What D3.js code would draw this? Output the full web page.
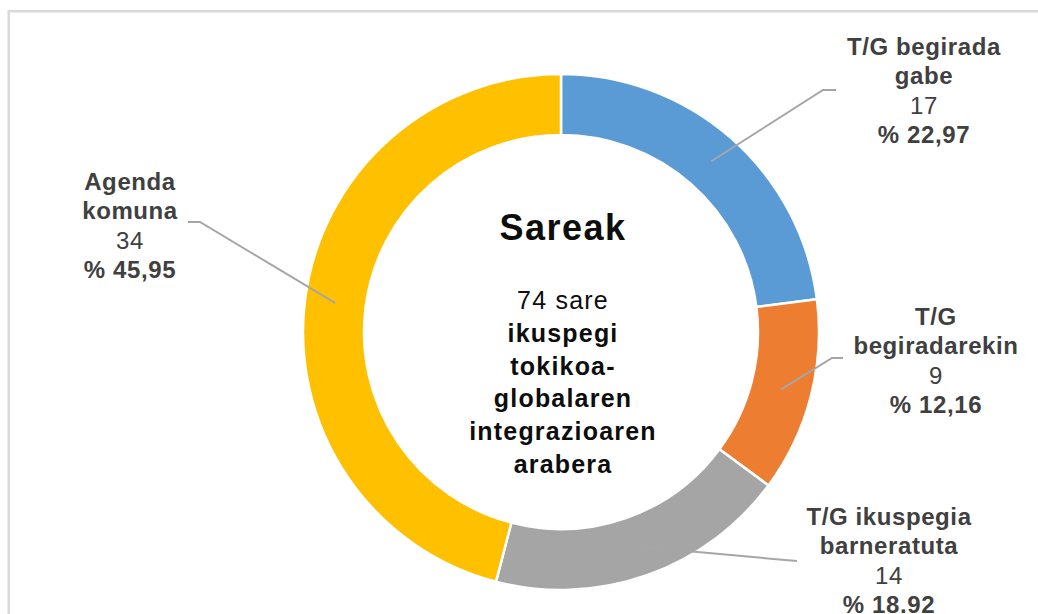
<!DOCTYPE html>
<html>
<head>
<meta charset="utf-8">
<script src="https://cdn.jsdelivr.net/npm/d3@7"></script>
<style>
  body{margin:0;background:#fff;}
  svg{display:block;font-family:"Liberation Sans",Arial,sans-serif;}
</style>
</head>
<body>
<div id="chart"></div>
<script>
// data
const categories = ['T/G begirada gabe','T/G begiradarekin','T/G ikuspegia barneratuta','Agenda komuna'];
const values = [17, 9, 14, 34];
const percentLabels = ['% 22,97','% 12,16','% 18.92','% 45,95'];
const titleText = 'Sareak';
const centerLines = ['74 sare','ikuspegi','tokikoa-','globalaren','integrazioaren','arabera'];

// label text split as in the picture
const labelLines = [['T/G begirada','gabe'],['T/G','begiradarekin'],['T/G ikuspegia','barneratuta'],['Agenda','komuna']];

const colors = d3.scaleOrdinal().domain(categories).range(['#5b9bd5','#ed7d31','#a5a5a5','#ffc000']);

// where each label sits + the elbow of its leader line
const spots = [
  {x:924, y:55, elbow:[823,90], end:[836,90]},
  {x:936, y:325, elbow:[832,358], end:[843,358]},
  {x:889, y:525, elbow:[785,560], end:[797,561]},
  {x:130, y:190, elbow:[200,222], end:[188,222]}
];

const W = 1038, H = 614;
const cx = 561, cy = 332;
const outerR = 258, innerR = 197;

const svg = d3.select('#chart').append('svg')
  .attr('width', W).attr('height', H);

// chart frame (only top + left visible)
svg.append('path')
  .attr('d','M8.7,'+H+' V11.3 H'+W)
  .attr('fill','none')
  .attr('stroke','#d9d9d9')
  .attr('stroke-width',2.5);

const plot = svg.append('g').attr('transform','translate('+cx+','+cy+')');

const pie = d3.pie().sort(null).value(d => d);
const arcs = pie(values);
const arc = d3.arc().innerRadius(innerR).outerRadius(outerR);

plot.selectAll('path.slice').data(arcs).enter()
  .append('path')
  .attr('class','slice')
  .attr('d', arc)
  .attr('fill', (d,i) => colors(categories[i]))
  .attr('stroke','#fff')
  .attr('stroke-width',2.5);

// leader lines from centroid to label
const lines = svg.append('g').attr('class','leaders');
arcs.forEach((d,i) => {
  const c = arc.centroid(d);
  const s = spots[i];
  lines.append('polyline')
    .attr('points', [[c[0]+cx, c[1]+cy], s.elbow, s.end].map(p => p.join(',')).join(' '))
    .attr('fill','none')
    .attr('stroke','#a6a6a6')
    .attr('stroke-width',2);
});

// data labels
const lineH = 29.3;
const labels = svg.append('g').attr('class','labels');
categories.forEach((cat,i) => {
  const s = spots[i];
  const t = labels.append('text')
    .attr('x', s.x).attr('y', s.y)
    .attr('text-anchor','middle')
    .attr('font-size',24)
    .attr('letter-spacing',0.6)
    .attr('fill','#404040');
  const rows = labelLines[i].map(l => ({txt:l, bold:true}))
    .concat([{txt:String(values[i]), bold:false},{txt:percentLabels[i], bold:true}]);
  rows.forEach((r,j) => {
    t.append('tspan')
      .attr('x', s.x)
      .attr('dy', j === 0 ? 0 : lineH)
      .attr('font-weight', r.bold ? 'bold' : 'normal')
      .text(r.txt);
  });
});

// centre text
plot.append('text')
  .attr('x',2).attr('y',240-cy)
  .attr('text-anchor','middle')
  .attr('font-size',36)
  .attr('letter-spacing',1.5)
  .attr('font-weight','bold')
  .attr('fill','#0d0d0d')
  .text(titleText);

const ct = plot.append('text')
  .attr('x',2).attr('y',309-cy)
  .attr('text-anchor','middle')
  .attr('font-size',25)
  .attr('letter-spacing',1.2)
  .attr('fill','#0d0d0d');
centerLines.forEach((l,j) => {
  ct.append('tspan')
    .attr('x',2)
    .attr('dy', j === 0 ? 0 : 32.8)
    .attr('font-weight', j === 0 ? 'normal' : 'bold')
    .text(l);
});
</script>
</body>
</html>
